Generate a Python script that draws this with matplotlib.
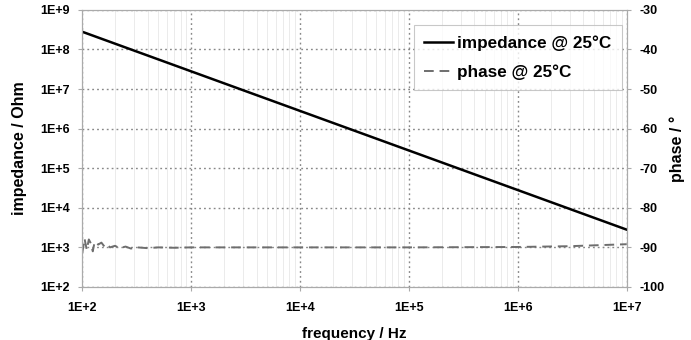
import numpy as np
import matplotlib.pyplot as plt
from matplotlib.ticker import FixedLocator, FuncFormatter, LogLocator, NullFormatter

plt.rcParams['font.family'] = ['Liberation Sans', 'DejaVu Sans']
plt.rcParams['font.weight'] = 'bold'
plt.rcParams['axes.unicode_minus'] = False

# impedance: straight line on log-log
imp_freq = [1e2, 1e7]
impedance = [2.8e8, 2.8e3]

# phase readings
phase_freq = [100, 105, 110, 115, 120, 125, 130, 140, 150, 160, 170, 180, 200,
              220, 250, 280, 320, 400, 500, 700, 1e3, 1e4, 1e5, 1e6, 3e6, 1e7]
phase = [-91.5, -87.8, -90.6, -88.0, -89.0, -91.0, -88.6, -89.3, -88.8, -89.8,
         -89.3, -90.0, -89.6, -90.2, -89.8, -90.3, -90.0, -90.2, -90.0, -90.1,
         -90.0, -90.0, -90.0, -89.9, -89.7, -89.2]

fig = plt.figure(figsize=(6.91, 3.40), dpi=100)
ax = fig.add_axes([0.119, 0.156, 0.788, 0.815])
ax2 = ax.twinx()

l1, = ax.plot(imp_freq, impedance, color='black', lw=1.8, label='impedance @ 25°C')
l2, = ax2.plot(phase_freq, phase, color='#6e6e6e', lw=1.4, dashes=(5, 3),
               label='phase @ 25°C')

ax.set_xscale('log')
ax.set_yscale('log')
ax.set_xlim(1e2, 1e7)
ax.set_ylim(1e2, 1e9)
ax2.set_ylim(-100, -30)
ax2.set_yticks(np.arange(-100, -29, 10))

fmt = FuncFormatter(lambda v, p: '1E+%d' % round(np.log10(v)))
ax.xaxis.set_major_locator(FixedLocator([10.0**k for k in range(2, 8)]))
ax.yaxis.set_major_locator(FixedLocator([10.0**k for k in range(2, 10)]))
ax.xaxis.set_major_formatter(fmt)
ax.yaxis.set_major_formatter(fmt)
ax.xaxis.set_minor_locator(LogLocator(base=10, subs=np.arange(2, 10), numticks=20))
ax.xaxis.set_minor_formatter(NullFormatter())
ax.yaxis.set_minor_locator(FixedLocator([]))

ax.grid(which='major', axis='both', color='#888888', ls=(0, (1.3, 2.2)), lw=1.0)
ax.grid(which='minor', axis='x', color='#ebebeb', ls='-', lw=0.7)

for a in (ax, ax2):
    for s in a.spines.values():
        s.set_color('#aaaaaa')
    a.tick_params(which='both', length=3, color='#aaaaaa', labelsize=9, pad=6)
ax.tick_params(axis='x', pad=8)
ax.tick_params(which='minor', length=0)

ax.set_xlabel('frequency / Hz', fontsize=11, fontweight='bold', labelpad=9)
ax.set_ylabel('impedance / Ohm', fontsize=11.5, fontweight='bold', labelpad=9)
ax2.set_ylabel('phase / °', fontsize=11.5, fontweight='bold', labelpad=4)

ax2.set_zorder(ax.get_zorder() + 1)
leg = ax2.legend(handles=[l1, l2], loc='upper right', bbox_to_anchor=(0.991, 0.946),
                 borderaxespad=0, fontsize=12.3, frameon=True, fancybox=False,
                 handlelength=1.7, handletextpad=0.25, borderpad=0.6,
                 labelspacing=0.8)
leg.get_frame().set_edgecolor('#bbbbbb')
leg.get_frame().set_linewidth(0.8)

fig.savefig('out.png', dpi=100)
